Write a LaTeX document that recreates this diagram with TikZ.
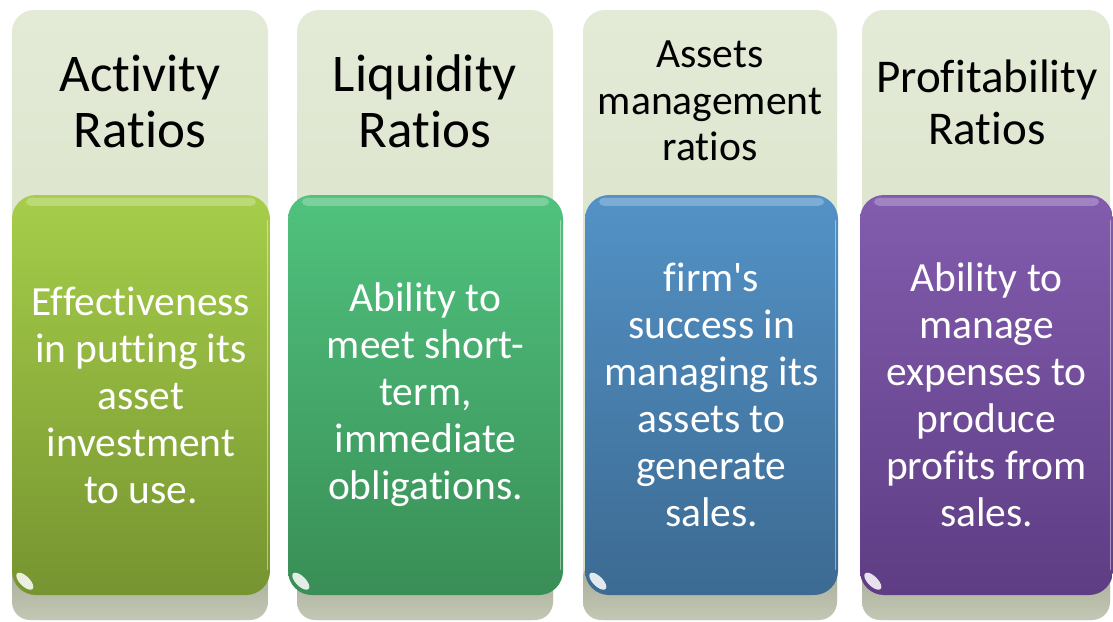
\documentclass[tikz,border=0pt]{standalone}
\usepackage{fontspec}
\newfontfamily\calib{Carlito}[Ligatures=NoCommon]
\definecolor{backtop}{HTML}{E3EAD6}
\definecolor{backbot}{HTML}{D4DCC1}
\definecolor{baseA}{HTML}{A3A996}
\definecolor{baseB}{HTML}{C3C8B4}
\definecolor{actTop}{HTML}{A6CE4A}
\definecolor{actBot}{HTML}{769430}
\definecolor{liqTop}{HTML}{50C27E}
\definecolor{liqBot}{HTML}{398E56}
\definecolor{astTop}{HTML}{5392C6}
\definecolor{astBot}{HTML}{3C6A92}
\definecolor{proTop}{HTML}{825CAE}
\definecolor{proBot}{HTML}{5E3D84}
\tikzset{
  backbox/.style={draw=none, rounded corners=22pt, top color=backtop, bottom color=backbot,
    minimum height=610pt, inner sep=0pt},
  headtext/.style={text=black, align=center, inner sep=0pt},
  frontbox/.style={draw=none, rounded corners=24pt, minimum height=400pt, inner sep=0pt,
    text=white, align=center, font=\calib\fontsize{41.5}{47}\selectfont},
  gloss/.style={fill=white, opacity=0.25, rounded corners=5pt},
  glint/.style={fill=white, opacity=0.85},
  rim/.style={draw=white, opacity=0.45, line width=1.4pt, line cap=round}
}
\begin{document}
\begin{tikzpicture}[x=1pt,y=-1pt]
\useasboundingbox (0,0) rectangle (1113,621);
\fill[white] (0,0) rectangle (1113,621);

% pale back panels with their grey base strip
\node[backbox, minimum width=256pt] (b1) at (140,315) {};
\node[backbox, minimum width=256pt] (b2) at (425,315) {};
\node[backbox, minimum width=254pt] (b3) at (710,315) {};
\node[backbox, minimum width=248pt] (b4) at (986,315) {};
\foreach \l/\r in {12/268, 297/553, 583/837, 862/1110}{
  \shade[top color=baseA, bottom color=baseB, rounded corners=18pt] (\l,560) rectangle (\r,620);
}

% headings
\node[headtext, font=\calib\fontsize{53}{56}\selectfont] (h1) at (140,101) {Activity\\Ratios};
\node[headtext, font=\calib\fontsize{53}{56}\selectfont] (h2) at (425,101) {Liquidity\\Ratios};
\node[headtext, font=\calib\fontsize{41.6}{46.5}\selectfont] (h3) at (710,101) {Assets\\management\\ratios};
\node[headtext, font=\calib\fontsize{47}{52}\selectfont] (h4) at (987,102) {Profitability\\Ratios};

% coloured description boxes
\node[frontbox, minimum width=258pt, top color=actTop, bottom color=actBot] (f1) at (141,395)
  {Effectiveness\\in putting its\\asset\\investment\\to use.};
\node[frontbox, minimum width=275pt, top color=liqTop, bottom color=liqBot] (f2) at (425.5,395)
  {Ability to\\meet short-\\term,\\immediate\\obligations.};
\node[frontbox, minimum width=253pt, top color=astTop, bottom color=astBot] (f3) at (711.5,395)
  {firm's\\success in\\managing its\\assets to\\generate\\sales.};
\node[frontbox, minimum width=253pt, top color=proTop, bottom color=proBot] (f4) at (986.5,395)
  {Ability to\\manage\\expenses to\\produce\\profits from\\sales.};

% glossy highlights on each box
\foreach \f in {f1,f2,f3,f4}{
  \fill[gloss] ([xshift=14pt,yshift=-3pt]\f.north west) rectangle ([xshift=-14pt,yshift=-11pt]\f.north east);
  \coordinate (g\f) at ([xshift=13pt,yshift=14pt]\f.south west);
  \fill[glint, shift={(g\f)}, rotate=-45] (0,0) ellipse [x radius=11pt, y radius=5pt];
  \draw[rim] ([xshift=-3pt,yshift=-26pt]\f.north east) -- ([xshift=-3pt,yshift=26pt]\f.south east);
}
\end{tikzpicture}
\end{document}
